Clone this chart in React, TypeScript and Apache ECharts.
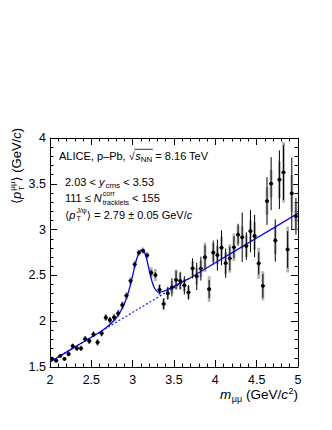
import React, { useEffect, useRef } from 'react';
import * as echarts from 'echarts';

const FONT = '"Liberation Sans", "DejaVu Sans", Arial, sans-serif';

// bin centres (GeV/c^2)
const mass = [
  2.025, 2.075, 2.125, 2.175, 2.225, 2.275, 2.325, 2.375, 2.425, 2.475,
  2.525, 2.575, 2.625, 2.675, 2.725, 2.775, 2.825, 2.875, 2.925, 2.975,
  3.025, 3.075, 3.125, 3.175, 3.225, 3.275, 3.325, 3.375, 3.425, 3.475,
  3.525, 3.575, 3.625, 3.675, 3.725, 3.775, 3.825, 3.875, 3.925, 3.975,
  4.025, 4.075, 4.125, 4.175, 4.225, 4.275, 4.325, 4.375, 4.425, 4.475,
  4.525, 4.575, 4.625, 4.675, 4.725, 4.775, 4.825, 4.875, 4.925, 4.975,
];
// <pT^mumu> (GeV/c)
const meanPt = [
  1.59, 1.569, 1.622, 1.589, 1.642, 1.729, 1.704, 1.704, 1.806, 1.784,
  1.857, 1.769, 1.868, 2.04, 2.013, 2.042, 2.086, 2.177, 2.279, 2.441,
  2.621, 2.748, 2.77, 2.719, 2.529, 2.504, 2.345, 2.188, 2.304, 2.37,
  2.452, 2.441, 2.392, 2.315, 2.577, 2.49, 2.574, 2.698, 2.35, 2.75,
  2.722, 2.802, 2.633, 2.685, 2.807, 2.944, 2.916, 2.82, 2.983, 2.93,
  2.632, 2.386, 3.312, 3.501, 2.881, 3.545, 3.625, 2.783, 3.396, 3.145,
];
const statErr = [
  0.02, 0.02, 0.02, 0.02, 0.025, 0.025, 0.025, 0.025, 0.03, 0.03,
  0.03, 0.03, 0.03, 0.03, 0.03, 0.03, 0.03, 0.03, 0.025, 0.02,
  0.02, 0.02, 0.02, 0.02, 0.03, 0.03, 0.05, 0.06, 0.07, 0.1,
  0.1, 0.09, 0.1, 0.08, 0.11, 0.15, 0.13, 0.13, 0.1, 0.13,
  0.17, 0.19, 0.16, 0.13, 0.12, 0.12, 0.27, 0.15, 0.23, 0.23,
  0.12, 0.13, 0.26, 0.29, 0.23, 0.32, 0.3, 0.2, 0.39, 0.2,
];
const systErr = [
  0.02, 0.02, 0.02, 0.02, 0.025, 0.025, 0.03, 0.03, 0.03, 0.03,
  0.03, 0.035, 0.035, 0.035, 0.035, 0.04, 0.04, 0.04, 0.04, 0.04,
  0.04, 0.035, 0.035, 0.04, 0.06, 0.065, 0.06, 0.06, 0.06, 0.07,
  0.11, 0.1, 0.07, 0.07, 0.08, 0.09, 0.09, 0.16, 0.14, 0.1,
  0.1, 0.12, 0.12, 0.155, 0.15, 0.1, 0.12, 0.12, 0.12, 0.15,
  0.17, 0.16, 0.15, 0.15, 0.15, 0.2, 0.33, 0.25, 0.2, 0.15,
];
const binHalfWidth = 0.025;

// total fit
const fitMass = [
  2.0, 2.3, 2.6, 2.65, 2.7, 2.75, 2.8, 2.85, 2.9, 2.95,
  3.0, 3.03, 3.06, 3.09, 3.11, 3.13, 3.16, 3.19, 3.22, 3.25,
  3.28, 3.31, 3.35, 3.4, 3.5, 3.6, 3.7, 4.0, 4.5, 5.0,
];
const fitPt = [
  1.555, 1.717, 1.879, 1.91, 1.945, 1.985, 2.035, 2.1, 2.19, 2.32,
  2.5, 2.62, 2.71, 2.765, 2.778, 2.77, 2.71, 2.6, 2.48, 2.39,
  2.34, 2.318, 2.32, 2.335, 2.38, 2.43, 2.475, 2.638, 2.908, 3.178,
];
// background component (dashed)
const bkgMass = [2.0, 3.7];
const bkgPt = [1.555, 2.475];

const xTicks = { min: 2, max: 5, step: 0.5 };
const yTicks = { min: 1.5, max: 4, step: 0.5 };

type Piece = { t: string; s?: number; dy?: number; it?: boolean; stack?: boolean; gap?: number };

let measureCtx: CanvasRenderingContext2D | null = null;
function fontStr(size: number, it: boolean) {
  return `${it ? 'italic ' : ''}${size}px ${FONT}`;
}
function measure(t: string, size: number, it: boolean) {
  if (!measureCtx) measureCtx = document.createElement('canvas').getContext('2d');
  measureCtx!.font = fontStr(size, it);
  return measureCtx!.measureText(t).width;
}

function buildRow(pieces: Piece[], x0: number, baseline: number, base: number) {
  const els: any[] = [];
  const marks: { start: number; end: number }[] = [];
  let cursor = x0;
  let prevStart = x0;
  for (const p of pieces) {
    const size = p.s ?? base;
    const start = p.stack ? prevStart : cursor + (p.gap ?? 0);
    const w = measure(p.t, size, !!p.it);
    els.push({
      type: 'text',
      x: start,
      y: baseline + (p.dy ?? 0) - 0.31 * size,
      silent: true,
      style: {
        text: p.t,
        font: fontStr(size, !!p.it),
        fill: '#000',
        align: 'left',
        verticalAlign: 'middle',
        textAlign: 'left',
        textVerticalAlign: 'middle',
      },
    });
    marks.push({ start, end: start + w });
    cursor = p.stack ? Math.max(cursor, start + w) : start + w;
    prevStart = start;
  }
  return { els, width: cursor - x0, marks };
}

function rowWidth(pieces: Piece[], base: number) {
  return buildRow(pieces, 0, 0, base).width;
}

export default function App() {
  const ref = useRef<HTMLDivElement>(null);
  useEffect(() => {
    if (!ref.current) return;
    const chart = echarts.init(ref.current, undefined, { renderer: 'svg' });

    const pts = mass.map((m, i) => [m, meanPt[i], statErr[i], systErr[i]]);
    const fit = fitMass.map((m, i) => [m, fitPt[i]]);
    const bkg = bkgMass.map((m, i) => [m, bkgPt[i]]);

    const fs = 11;
    const sub = 8;
    const sub2 = 7;
    const l1 = buildRow(
      [
        { t: 'ALICE, p\u2013Pb, ' },
        { t: '\u221A' },
        { t: 's', it: true, gap: 0.5 },
        { t: 'NN', s: sub, dy: 2.5 },
        { t: ' = 8.16 TeV' },
      ],
      59, 159.5, fs
    );
    const sq = l1.marks[1];
    const nn = l1.marks[3];
    const l2 = buildRow(
      [
        { t: '2.03 < ' },
        { t: 'y', it: true },
        { t: 'cms', s: sub, dy: 2.5, gap: 1 },
        { t: ' < 3.53' },
      ],
      65, 185.5, fs
    );
    const l3 = buildRow(
      [
        { t: '111 \u2264 ' },
        { t: 'N', it: true },
        { t: 'corr', s: sub2, dy: -5.5, gap: 1 },
        { t: 'tracklets', s: sub2, dy: 3, stack: true },
        { t: ' < 155' },
      ],
      65, 201.5, fs
    );
    const l4 = buildRow(
      [
        { t: '\u27E8' },
        { t: 'p', it: true },
        { t: 'J/\u03C8', s: sub2, dy: -5.5, gap: 1 },
        { t: 'T', s: sub2, dy: 3, stack: true },
        { t: '\u27E9 = 2.79 \u00B1 0.05 GeV/' },
        { t: 'c', it: true },
      ],
      65, 218, fs
    );

    const tfs = 13.5;
    const xtPieces: Piece[] = [
      { t: 'm', it: true },
      { t: '\u03BC\u03BC', s: 9, dy: 3, gap: 0.5 },
      { t: ' (GeV/' },
      { t: 'c', it: true },
      { t: '2', s: 9, dy: -5.5, gap: 0.5 },
      { t: ')' },
    ];
    const xw = rowWidth(xtPieces, tfs);
    const xt = buildRow(xtPieces, 298 - xw, 399, tfs);

    const ytPieces: Piece[] = [
      { t: '\u27E8' },
      { t: 'p', it: true },
      { t: '\u03BC\u03BC', s: 8, dy: -6, gap: 1 },
      { t: 'T', s: 8, dy: 3, stack: true },
      { t: '\u27E9 (GeV/' },
      { t: 'c', it: true },
      { t: ')' },
    ];
    const yw = rowWidth(ytPieces, 13);
    const yt = buildRow(ytPieces, 0, 0, 13);

    const axisCommon = {
      type: 'value' as const,
      axisLine: { show: true, onZero: false, lineStyle: { color: '#000', width: 1 } },
      axisTick: { show: true, inside: true, length: 7, lineStyle: { color: '#000', width: 1 } },
      minorTick: { show: true, splitNumber: 5, length: 3.5, lineStyle: { color: '#000', width: 1 } },
      splitLine: { show: false },
      minorSplitLine: { show: false },
    };

    chart.setOption({
      animation: false,
      backgroundColor: '#fff',
      grid: { left: 50, right: 34, top: 138, bottom: 63, containLabel: false },
      xAxis: [
        {
          ...axisCommon,
          position: 'bottom',
          min: xTicks.min, max: xTicks.max, interval: xTicks.step,
          axisLabel: { show: true, color: '#000', fontSize: 12.5, fontFamily: FONT, margin: 6 },
        },
        {
          ...axisCommon,
          position: 'top',
          min: xTicks.min, max: xTicks.max, interval: xTicks.step,
          axisLabel: { show: false },
        },
      ],
      yAxis: [
        {
          ...axisCommon,
          position: 'left',
          min: yTicks.min, max: yTicks.max, interval: yTicks.step,
          axisLabel: { show: true, color: '#000', fontSize: 12.5, fontFamily: FONT, margin: 4 },
        },
        {
          ...axisCommon,
          position: 'right',
          min: yTicks.min, max: yTicks.max, interval: yTicks.step,
          axisLabel: { show: false },
        },
      ],
      series: [
        {
          type: 'custom',
          name: 'syst',
          z: 1,
          xAxisIndex: 0,
          yAxisIndex: 0,
          encode: { x: 0, y: 1 },
          data: pts,
          clip: true,
          renderItem: (params: any, api: any) => {
            const m = api.value(0), v = api.value(1), sy = api.value(3);
            const top = api.coord([m, v + sy]);
            const bot = api.coord([m, v - sy]);
            return {
              type: 'rect',
              shape: { x: top[0] - 1.4, y: top[1], width: 2.8, height: bot[1] - top[1] },
              style: { fill: '#b4b4b4' },
            };
          },
        },
        {
          type: 'line',
          name: 'bkg',
          z: 2,
          data: bkg,
          showSymbol: false,
          symbol: 'none',
          lineStyle: { color: '#1a1aff', width: 1.2, type: [2, 2] },
        },
        {
          type: 'line',
          name: 'fit',
          z: 3,
          data: fit,
          smooth: 0.35,
          showSymbol: false,
          symbol: 'none',
          lineStyle: { color: '#0000ff', width: 1.3 },
        },
        {
          type: 'custom',
          name: 'data',
          z: 4,
          encode: { x: 0, y: 1 },
          data: pts,
          clip: true,
          renderItem: (params: any, api: any) => {
            const m = api.value(0), v = api.value(1), st = api.value(2);
            const c = api.coord([m, v]);
            const top = api.coord([m, v + st]);
            const bot = api.coord([m, v - st]);
            const l = api.coord([m - binHalfWidth, v]);
            const r = api.coord([m + binHalfWidth, v]);
            return {
              type: 'group',
              children: [
                { type: 'line', shape: { x1: c[0], y1: top[1], x2: c[0], y2: bot[1] }, style: { stroke: '#000', lineWidth: 1 } },
                { type: 'line', shape: { x1: l[0], y1: c[1], x2: r[0], y2: c[1] }, style: { stroke: '#000', lineWidth: 1 } },
                { type: 'circle', shape: { cx: c[0], cy: c[1], r: 1.9 }, style: { fill: '#000' } },
              ],
            };
          },
        },
      ],
      graphic: [
        ...l1.els,
        {
          type: 'line',
          silent: true,
          shape: { x1: sq.end - 0.5, y1: 159.5 - 10.2, x2: nn.end + 0.5, y2: 159.5 - 10.2 },
          style: { stroke: '#000', lineWidth: 0.8 },
        },
        ...l2.els,
        ...l3.els,
        ...l4.els,
        ...xt.els,
        {
          type: 'group',
          x: 21,
          y: 128 + yw,
          rotation: Math.PI / 2,
          children: yt.els,
        },
      ],
    });
    return () => chart.dispose();
  }, []);
  return (
    <div
      ref={ref}
      style={{ position: 'fixed', left: 0, top: 0, width: 332, height: 430, background: '#fff' }}
    />
  );
}
